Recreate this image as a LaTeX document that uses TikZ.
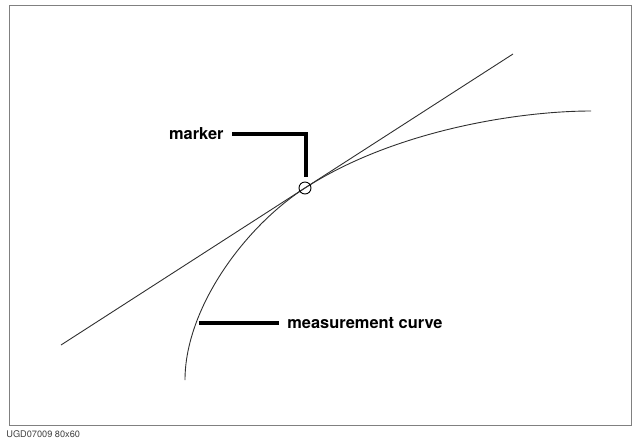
\documentclass[tikz,border=0pt]{standalone}
\usepackage{fontspec}
\setsansfont{TeX Gyre Heros}
\usepackage{tikz}
\usetikzlibrary{positioning,calc}
\definecolor{FrameGray}{HTML}{808080}
\definecolor{TraceGray}{HTML}{303030}

\begin{document}
\begin{tikzpicture}[x=0.5pt,y=-0.5pt,
  lbl/.style={font=\sffamily\bfseries\fontsize{8.2}{10}\selectfont,inner xsep=4pt,inner ysep=0pt},
  leader/.style={line width=1.75pt,black},
  trace/.style={line width=0.45pt,TraceGray},
  mkring/.style={circle,draw=black,line width=0.45pt,minimum size=6pt,inner sep=0pt},
  tag/.style={font=\sffamily\fontsize{4.6}{5}\selectfont,text=black!75,inner sep=0pt}]
\useasboundingbox (0,0) rectangle (632,440);
\draw[FrameGray,line width=0.5pt] (9,5) rectangle (631,425);
% tangent line and measurement trace
\coordinate (tanA) at (61,345);
\coordinate (tanB) at (513,54);
\draw[trace] (tanA) -- (tanB);
\coordinate (crvA) at (185,380);
\coordinate (touch) at (305,188);
\coordinate (crvB) at (591,111);
\draw[trace] (crvA) .. controls (185,308) and (245,226.6) .. (touch)
  .. controls (395,130) and (520,111) .. (crvB);
\node[mkring] (ring) at (touch) {};
% labels
\node[lbl,anchor=east] (mklabel) at (232,134) {marker};
\coordinate (bend) at (306,134);
\draw[leader] (mklabel.east) -- (bend) -- ($(bend |- ring.north)+(0,-5)$);
\node[lbl,anchor=west] (mslabel) at (279,323) {measurement curve};
\coordinate (crvpt) at (199,323);
\draw[leader] (crvpt) -- (mslabel.west);
\node[tag,anchor=west] (code) at (6,434) {UGD07009 80x60};
\end{tikzpicture}
\end{document}
